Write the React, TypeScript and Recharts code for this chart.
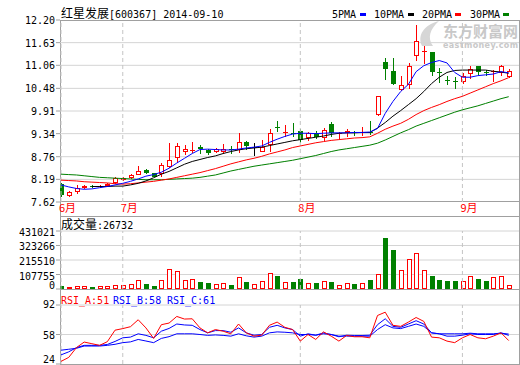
import { Bar, CartesianGrid, ComposedChart, Line, ReferenceLine, XAxis, YAxis } from "recharts";

const RED = "#ff0000";
const GREEN = "#008000";
const BLUE = "#0000ff";
const FRAME = "#a0a0a0";
const GRID = "#d4d4d4";
const DASH = "#c4c4c4";
const MONO = '"DejaVu Sans Mono", "Liberation Mono", monospace';
const CJK = '"Noto Sans CJK SC", "Noto Sans", sans-serif';

// daily candles, 2014-06-19 .. 2014-09-10
const opens = [8.07, 7.77, 7.88, 7.97, 8.03, 7.99, 8.02, 8.09, 8.18, 8.23, 8.31, 8.43, 8.34, 8.32, 8.51, 8.72, 8.88, 8.91, 9.01, 8.93, 8.87, 8.87, 8.95, 8.93, 9.12, 9.0, 8.89, 9.05, 9.51, 9.35, 9.36, 9.41, 9.22, 9.36, 9.22, 9.58, 9.32, 9.36, 9.38, 9.36, 9.38, 9.8, 11.15, 10.92, 10.44, 10.56, 11.29, 11.39, 11.39, 10.9, 10.7, 10.66, 10.65, 10.84, 11.03, 10.89, 10.88, 10.86, 10.76];
const highs = [8.09, 7.89, 8.05, 8.06, 8.05, 8.05, 8.09, 8.24, 8.25, 8.33, 8.53, 8.45, 8.36, 8.6, 9.11, 9.1, 9.05, 9.12, 9.05, 8.96, 8.98, 9.07, 9.04, 9.35, 9.16, 9.11, 9.18, 9.46, 9.66, 9.56, 9.6, 9.45, 9.38, 9.4, 9.48, 9.64, 9.38, 9.45, 9.4, 9.5, 9.67, 10.3, 11.24, 11.25, 10.79, 11.13, 12.07, 11.55, 11.4, 10.98, 10.79, 10.77, 10.86, 11.03, 11.05, 10.93, 10.94, 11.06, 10.96];
const lows = [7.75, 7.75, 7.81, 7.95, 7.98, 7.97, 8.0, 8.07, 8.15, 8.2, 8.29, 8.33, 8.24, 8.26, 8.47, 8.59, 8.8, 8.85, 8.83, 8.81, 8.85, 8.83, 8.84, 8.86, 8.94, 8.78, 8.89, 8.89, 9.37, 9.26, 9.26, 9.1, 9.15, 9.2, 9.16, 9.25, 9.2, 9.25, 9.28, 9.28, 9.31, 9.78, 10.69, 10.56, 10.42, 10.46, 11.18, 11.09, 10.79, 10.62, 10.56, 10.46, 10.6, 10.71, 10.82, 10.78, 10.65, 10.78, 10.73];
const closes = [7.8, 7.87, 7.97, 8.02, 8.01, 8.03, 8.07, 8.22, 8.22, 8.3, 8.41, 8.36, 8.26, 8.55, 8.68, 9.03, 8.95, 8.94, 8.95, 8.86, 8.95, 8.95, 8.93, 9.14, 9.04, 9.0, 9.0, 9.35, 9.49, 9.37, 9.34, 9.18, 9.35, 9.26, 9.43, 9.36, 9.35, 9.41, 9.37, 9.38, 9.36, 10.28, 10.96, 10.59, 10.56, 11.04, 11.68, 11.43, 10.9, 10.86, 10.68, 10.64, 10.79, 10.97, 10.88, 10.87, 10.91, 11.04, 10.92];

const ma5 = [8.05, 8.0, 7.96, 7.94, 7.95, 7.98, 8.01, 8.05, 8.09, 8.14, 8.2, 8.27, 8.31, 8.37, 8.47, 8.6, 8.72, 8.84, 8.94, 8.95, 8.94, 8.93, 8.93, 8.95, 8.98, 9.0, 9.03, 9.12, 9.2, 9.27, 9.33, 9.35, 9.35, 9.34, 9.35, 9.36, 9.36, 9.36, 9.37, 9.37, 9.38, 9.47, 9.85, 10.15, 10.4, 10.58, 10.9, 11.05, 11.13, 11.18, 11.12, 10.88, 10.76, 10.76, 10.8, 10.82, 10.84, 10.9, 10.87];
const ma10 = [null, null, null, null, 8.01, 8.01, 8.01, 8.02, 8.02, 8.05, 8.09, 8.15, 8.23, 8.32, 8.39, 8.48, 8.57, 8.64, 8.69, 8.74, 8.78, 8.84, 8.89, 8.93, 8.96, 8.98, 9.0, 9.04, 9.08, 9.12, 9.16, 9.19, 9.22, 9.25, 9.28, 9.32, 9.35, 9.36, 9.36, 9.37, 9.37, 9.48, 9.62, 9.78, 9.92, 10.07, 10.22, 10.4, 10.6, 10.76, 10.88, 10.93, 10.94, 10.94, 10.94, 10.94, 10.91, 10.89, 10.86];
const ma20 = [8.17, 8.16, 8.15, 8.13, 8.12, 8.11, 8.1, 8.08, 8.07, 8.08, 8.1, 8.12, 8.14, 8.17, 8.2, 8.24, 8.28, 8.32, 8.36, 8.41, 8.46, 8.52, 8.58, 8.63, 8.68, 8.72, 8.77, 8.83, 8.88, 8.93, 8.99, 9.03, 9.07, 9.11, 9.14, 9.17, 9.19, 9.21, 9.23, 9.24, 9.26, 9.35, 9.45, 9.53, 9.6, 9.7, 9.82, 9.92, 10.0, 10.07, 10.15, 10.22, 10.28, 10.36, 10.44, 10.52, 10.6, 10.67, 10.75];
const ma30 = [8.32, 8.31, 8.3, 8.28, 8.26, 8.24, 8.23, 8.22, 8.21, 8.2, 8.19, 8.18, 8.18, 8.18, 8.19, 8.2, 8.21, 8.22, 8.24, 8.27, 8.3, 8.35, 8.4, 8.44, 8.48, 8.52, 8.55, 8.58, 8.61, 8.64, 8.67, 8.71, 8.75, 8.79, 8.84, 8.89, 8.93, 8.96, 8.99, 9.02, 9.05, 9.1, 9.18, 9.27, 9.36, 9.44, 9.53, 9.6, 9.67, 9.74, 9.81, 9.88, 9.94, 9.99, 10.04, 10.1, 10.16, 10.22, 10.27];

const volumes = [22000, 15000, 20000, 20000, 15000, 20000, 20000, 32000, 27000, 35000, 65000, 37000, 22000, 65000, 146000, 134000, 65000, 72000, 52000, 45000, 39000, 42000, 30000, 87000, 52000, 35000, 59000, 117000, 97000, 50000, 52000, 74000, 42000, 45000, 59000, 52000, 27000, 42000, 37000, 42000, 67000, 111000, 379000, 290000, 141000, 221000, 265000, 141000, 97000, 67000, 59000, 59000, 59000, 94000, 74000, 59000, 87000, 94000, 26732];

const rsiA = [27, 31.6, 42.9, 49.3, 47.4, 45.5, 49.7, 63, 64.8, 67, 75, 65.6, 53.5, 69.3, 71.2, 78.8, 75.8, 76.1, 65.6, 59.9, 63.7, 61.8, 58.8, 70.1, 59.9, 56.1, 57.2, 68.6, 72.3, 66.3, 63.7, 50.4, 58, 52.3, 61, 56.1, 50.4, 56.9, 55.4, 55.4, 54.2, 79.9, 83.7, 68.6, 67.4, 72.3, 77.6, 73.1, 55, 54.2, 50.4, 48.6, 54.2, 58, 54.2, 53.1, 56.1, 59.9, 51];
const rsiB = [34.5, 38, 42.9, 45.5, 45.5, 45.5, 46.5, 50, 54.2, 55, 58.8, 57, 54.2, 61.8, 65, 70.1, 69, 68.6, 63.7, 59.9, 62.5, 62.5, 60.6, 65.6, 59.9, 57.2, 58, 66.3, 68.6, 65.6, 63.7, 56.1, 58.8, 57.2, 59.9, 58, 55.4, 57.2, 56.9, 56.9, 57.2, 69.3, 76.1, 67.4, 66.3, 70.1, 73.9, 70.1, 59.9, 58.8, 56.1, 56.1, 57.2, 58.8, 58, 58, 58, 59.9, 57];
const rsiC = [39.9, 41, 42.1, 44.7, 44.7, 44.7, 45.5, 46.7, 48.6, 49.5, 52.3, 50.5, 48.6, 53.5, 55.5, 58.8, 58.8, 58.8, 58, 57, 57.5, 57, 56.1, 58.8, 56.5, 55, 56.1, 59.9, 61, 60.6, 59.9, 58, 58, 57.2, 58.8, 58, 56.1, 56.1, 56.1, 56.1, 56.1, 63.7, 69.3, 65.6, 64.8, 67.4, 70.1, 67.4, 59.9, 58.8, 58.8, 58.8, 58.8, 59.5, 58.8, 58.8, 58.8, 59.5, 58.5];

const monthTicks = [0, 8, 31, 52];
const monthLabels = ["6月", "7月", "8月", "9月"];
const priceTicks = [7.62, 8.19, 8.76, 9.34, 9.91, 10.48, 11.06, 11.63, 12.2];
const volumeTicks = [0, 107755, 215510, 323266, 431021];
const rsiTicks = [24, 58, 92];

const X_DOMAIN = [-0.13, 59.33];

const rows = closes.map((close, i) => ({
  i,
  open: opens[i],
  high: highs[i],
  low: lows[i],
  close,
  ma5: ma5[i],
  ma10: ma10[i],
  ma20: ma20[i],
  ma30: ma30[i],
  vol: volumes[i],
  rsiA: rsiA[i],
  rsiB: rsiB[i],
  rsiC: rsiC[i],
}));

const Candle = (props: any) => {
  const { x, y, width, height, payload } = props;
  if (!payload || x == null || y == null) return null;
  const { open, close, high, low } = payload;
  const top = Math.min(y, y + height);
  const h = Math.abs(height);
  const toY = (v: number) => (high > low ? top + ((high - v) / (high - low)) * h : top);
  const px = Math.round(x + width / 2);
  const lx = px + 0.5;
  const color = close > open ? RED : close < open ? GREEN : "#000";
  const yHigh = Math.round(toY(high));
  const yLow = Math.round(toY(low));
  const b1 = Math.round(toY(Math.max(open, close)));
  const b2 = Math.round(toY(Math.min(open, close)));
  if (b2 - b1 < 2) {
    return (
      <g>
        <line x1={lx} x2={lx} y1={yHigh} y2={Math.max(yLow, yHigh + 1)} stroke={color} />
        <line x1={px - 2} x2={px + 3} y1={b1 + 0.5} y2={b1 + 0.5} stroke={color} />
      </g>
    );
  }
  if (close > open) {
    return (
      <g>
        <line x1={lx} x2={lx} y1={yHigh} y2={b1} stroke={RED} />
        <line x1={lx} x2={lx} y1={b2} y2={yLow} stroke={RED} />
        <rect x={px - 1.5} y={b1 + 0.5} width={4} height={b2 - b1 - 1} fill="#fff" stroke={RED} />
      </g>
    );
  }
  return (
    <g>
      <line x1={lx} x2={lx} y1={yHigh} y2={yLow} stroke={GREEN} />
      <rect x={px - 2} y={b1} width={5} height={b2 - b1} fill={GREEN} />
    </g>
  );
};

const VolumeBar = (props: any) => {
  const { x, y, width, height, payload } = props;
  if (!payload || x == null || y == null) return null;
  const px = Math.round(x + width / 2);
  const t = Math.round(Math.min(y, y + height));
  const b = Math.round(Math.max(y, y + height));
  if (payload.close >= payload.open) {
    return <rect x={px - 1.5} y={t + 0.5} width={4} height={Math.max(b - t - 1, 0.5)} fill="#fff" stroke={RED} />;
  }
  return <rect x={px - 2} y={t} width={5} height={b - t} fill={GREEN} />;
};

const axisTick = (fmt: (v: number) => string, lift: (v: number) => number) => (p: any) => (
  <text
    x={p.x}
    y={p.y - lift(p.payload.value)}
    dy={4}
    textAnchor="end"
    fontFamily={MONO}
    fontSize={10}
    fill="#000"
  >
    {fmt(p.payload.value)}
  </text>
);

const MonthTick = (p: any) => (
  <text x={p.x - 2} y={212} fontFamily={CJK} fontSize={11} fill={RED}>
    {monthLabels[monthTicks.indexOf(p.payload.value)]}
  </text>
);

const dashedMonths = monthTicks.map((t) => (
  <ReferenceLine key={t} x={t} stroke={DASH} strokeDasharray="4 3" />
));

const App = () => {
  return (
    <div style={{ position: "relative", width: 520, height: 365, background: "#fff", overflow: "hidden" }}>
      <style>{"body{margin:0} .recharts-surface{overflow:visible}"}</style>

      <svg width={520} height={365} style={{ position: "absolute", left: 0, top: 0 }}>
        {/* watermark */}
        <path d="M422 46 C417 35 424 25 439 21 C430 29 427 38 433 46 Z" fill="#d6d6d6" />
        <text x={443} y={37} fontFamily={CJK} fontSize={15} fontWeight="bold" fill="#c8c8c8" textLength={75}>
          东方财富网
        </text>
        <text x={443} y={48} fontFamily='"DejaVu Sans", sans-serif' fontSize={8} fontWeight="bold" fill="#c8c8c8" textLength={75}>
          eastmoney.com
        </text>

        <g stroke={FRAME} strokeWidth={1}>
          <line x1={60.5} y1={20} x2={60.5} y2={365} />
          <line x1={519.5} y1={20} x2={519.5} y2={365} />
          <line x1={60} y1={20.5} x2={520} y2={20.5} />
          <line x1={60} y1={201.5} x2={520} y2={201.5} />
          <line x1={60} y1={216.5} x2={520} y2={216.5} />
          <line x1={60} y1={289.5} x2={520} y2={289.5} />
          <line x1={60} y1={364.5} x2={520} y2={364.5} />
        </g>

        <text x={61} y={17.5} fill="#000">
          <tspan fontFamily={CJK} fontSize={12}>红星发展</tspan>
          <tspan fontFamily={MONO} fontSize={10}>[600367] 2014-09-10</tspan>
        </text>

        <g fontFamily={MONO} fontSize={10} fill="#000">
          <text x={332} y={18}>5PMA</text>
          <text x={374} y={18}>10PMA</text>
          <text x={422} y={18}>20PMA</text>
          <text x={470} y={18}>30PMA</text>
        </g>
        <rect x={360} y={13} width={6} height={3} fill={BLUE} />
        <rect x={408} y={13} width={6} height={3} fill="#000" />
        <rect x={455} y={13} width={6} height={3} fill={RED} />
        <rect x={503} y={13} width={6} height={3} fill={GREEN} />

        <text x={61} y={229} fill="#000">
          <tspan fontFamily={CJK} fontSize={12}>成交量</tspan>
          <tspan fontFamily={MONO} fontSize={10}>:{volumes[volumes.length - 1]}</tspan>
        </text>

        <g fontFamily={MONO} fontSize={10}>
          <text x={61} y={304} fill={RED}>RSI_A:51</text>
          <text x={113} y={304} fill={BLUE}>RSI_B:58</text>
          <text x={167} y={304} fill={BLUE}>RSI_C:61</text>
        </g>
      </svg>

      <div style={{ position: "absolute", left: 0, top: 0 }}>
        <ComposedChart width={520} height={215} data={rows} margin={{ top: 20, right: 1, bottom: 0, left: 0 }}>
          <CartesianGrid stroke={GRID} vertical={false} horizontalValues={priceTicks.slice(1, -1)} />
          <XAxis
            dataKey="i"
            type="number"
            domain={X_DOMAIN}
            allowDataOverflow
            ticks={monthTicks}
            interval={0}
            height={13}
            axisLine={false}
            tickLine={false}
            tick={<MonthTick />}
          />
          <YAxis
            type="number"
            domain={[7.62, 12.2]}
            allowDataOverflow
            ticks={priceTicks}
            interval={0}
            width={60}
            axisLine={false}
            tickSize={4}
            tickMargin={1}
            tickLine={{ stroke: FRAME }}
            tick={axisTick((v) => v.toFixed(2), () => 0)}
          />
          {dashedMonths}
          <Bar dataKey={(d: any) => [d.low, d.high]} barSize={6} shape={(p: any) => <Candle {...p} />} isAnimationActive={false} />
          <Line type="linear" dataKey="ma30" stroke={GREEN} strokeWidth={1} dot={false} isAnimationActive={false} />
          <Line type="linear" dataKey="ma20" stroke={RED} strokeWidth={1} dot={false} isAnimationActive={false} />
          <Line type="linear" dataKey="ma10" stroke="#000" strokeWidth={1} dot={false} isAnimationActive={false} />
          <Line type="linear" dataKey="ma5" stroke={BLUE} strokeWidth={1} dot={false} isAnimationActive={false} />
        </ComposedChart>
      </div>

      <div style={{ position: "absolute", left: 0, top: 217 }}>
        <ComposedChart width={520} height={72} data={rows} margin={{ top: 14, right: 1, bottom: 0, left: 0 }}>
          <CartesianGrid stroke={GRID} vertical={false} horizontalValues={volumeTicks.slice(1)} />
          <XAxis hide dataKey="i" type="number" domain={X_DOMAIN} allowDataOverflow />
          <YAxis
            type="number"
            domain={[0, 431021]}
            allowDataOverflow
            ticks={volumeTicks}
            interval={0}
            width={60}
            axisLine={false}
            tickSize={4}
            tickMargin={1}
            tickLine={{ stroke: FRAME }}
            tick={axisTick((v) => String(v), (v) => (v === 0 ? 4 : -1))}
          />
          {dashedMonths}
          <Bar dataKey="vol" barSize={6} shape={(p: any) => <VolumeBar {...p} />} isAnimationActive={false} />
        </ComposedChart>
      </div>

      <div style={{ position: "absolute", left: 0, top: 290 }}>
        <ComposedChart width={520} height={74} data={rows} margin={{ top: 15, right: 1, bottom: 0, left: 0 }}>
          <CartesianGrid stroke={GRID} vertical={false} horizontalValues={[58, 92]} />
          <XAxis hide dataKey="i" type="number" domain={X_DOMAIN} allowDataOverflow />
          <YAxis
            type="number"
            domain={[24, 92]}
            allowDataOverflow
            ticks={rsiTicks}
            interval={0}
            width={60}
            axisLine={false}
            tickSize={4}
            tickMargin={1}
            tickLine={{ stroke: FRAME }}
            tick={axisTick((v) => String(v), (v) => (v === 24 ? 5 : v === 92 ? 1 : 0))}
          />
          {dashedMonths}
          <Line type="linear" dataKey="rsiC" stroke={BLUE} strokeWidth={1} dot={false} isAnimationActive={false} />
          <Line type="linear" dataKey="rsiB" stroke={BLUE} strokeWidth={1} dot={false} isAnimationActive={false} />
          <Line type="linear" dataKey="rsiA" stroke={RED} strokeWidth={1} dot={false} isAnimationActive={false} />
        </ComposedChart>
      </div>
    </div>
  );
};

export default App;
